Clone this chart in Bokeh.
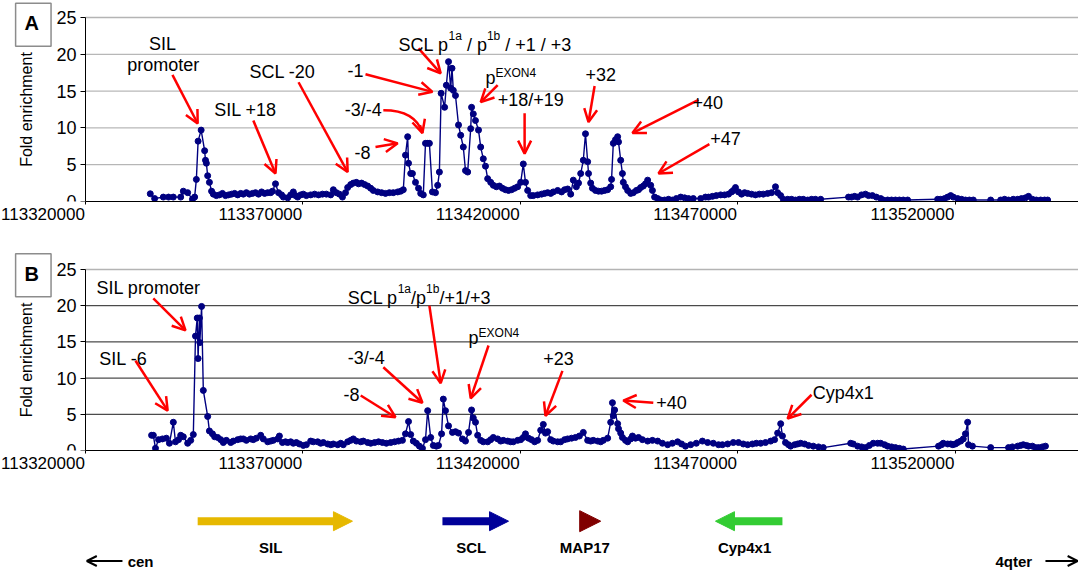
from bokeh.plotting import figure
from bokeh.models import Range1d, FixedTicker, Label, Arrow, OpenHead, NormalHead
from bokeh.layouts import column
from bokeh.embed import file_html
from bokeh.resources import INLINE

FONT = "Liberation Sans"
NAVY = "#000080"
RED = "#FF0000"

REGION_START = 113320000          # bp, left end of the x axis
REGION_END = 113548400            # bp, right end of the x axis

x_ticks = [113320000, 113370000, 113420000, 113470000, 113520000]
x_tick_labels = ["113320000", "113370000", "113420000", "113470000", "113520000"]
y_ticks = [0, 5, 10, 15, 20, 25]

# Panel A: probe position (kb from REGION_START) and fold enrichment
a_pos_kb = [
    14.9, 15.9, 17.9, 19.1, 20.2, 21.9, 22.5, 23.5, 24.6, 25.1,
    25.5, 25.9, 26.6, 27.4, 27.6, 27.8, 28.1, 28.5, 29.0, 29.4,
    30.1, 30.8, 31.5, 32.2, 32.9, 33.6, 34.3, 35.0, 35.7, 36.3,
    37.0, 37.7, 38.4, 39.1, 39.8, 40.5, 41.2, 41.9, 42.6, 43.0,
    43.7, 44.4, 45.1, 45.5, 46.5, 47.2, 47.8, 48.3, 48.8, 49.5,
    50.1, 50.8, 51.8, 52.7, 53.6, 54.5, 55.4, 56.4, 57.0, 57.7,
    58.4, 59.1, 59.8, 60.3, 61.0, 61.6, 62.3, 62.8, 63.5, 64.2,
    64.9, 65.6, 66.2, 67.2, 68.1, 69.0, 69.9, 70.8, 71.8, 72.5,
    73.1, 73.6, 74.1, 74.3, 74.8, 75.2, 75.9, 76.6, 77.1, 77.7,
    78.2, 78.7, 79.1, 79.8, 80.5, 81.0, 81.4, 81.8, 82.6, 83.0,
    83.5, 84.0, 84.3, 84.6, 85.1, 85.8, 86.3, 86.9, 87.4, 87.9,
    88.6, 88.8, 89.2, 89.7, 90.4, 90.9, 91.5, 92.0, 92.5, 93.2,
    93.8, 94.5, 95.2, 95.9, 96.6, 97.3, 98.0, 98.7, 99.4, 100.1,
    100.7, 101.2, 101.7, 102.4, 103.0, 104.0, 104.9, 105.6, 106.3, 107.0,
    107.6, 108.6, 109.5, 110.2, 110.9, 111.6, 112.2, 112.9, 113.4, 113.9,
    114.5, 115.0, 115.5, 115.7, 116.2, 116.6, 117.3, 118.0, 118.7, 119.4,
    120.1, 120.8, 121.0, 121.4, 121.9, 122.4, 122.6, 123.1, 123.5, 123.7,
    124.2, 124.7, 125.4, 126.0, 126.7, 127.2, 127.7, 128.3, 128.8, 129.3,
    130.0, 130.4, 130.9, 131.6, 132.3, 133.2, 134.1, 135.0, 135.9, 136.9,
    137.8, 138.7, 139.8, 141.5, 142.6, 143.3, 144.2, 145.1, 146.1, 147.0,
    147.9, 148.6, 149.0, 149.5, 150.2, 150.9, 151.6, 152.3, 153.2, 154.1,
    155.0, 155.9, 156.9, 157.8, 158.7, 159.2, 159.9, 160.5, 161.5, 162.4,
    163.3, 164.2, 165.1, 166.1, 167.0, 167.9, 169.1, 175.5, 176.2, 176.9,
    177.6, 178.5, 179.4, 180.1, 181.0, 181.9, 182.9, 183.5, 184.5, 185.4,
    186.3, 187.2, 188.1, 189.1, 196.0, 196.7, 197.6, 198.3, 199.0, 199.6,
    200.6, 201.5, 202.4, 203.3, 204.2, 208.2, 210.5, 211.4, 212.3, 213.4,
    214.4, 215.3, 216.2, 216.9, 217.8, 218.7, 219.7, 220.6, 221.3,
]
a_fold = [
    1.05, 0.4, 0.6, 0.6, 0.6, 0.6, 1.4, 1.2, 0.3, 0.6,
    3.0, 8.2, 9.7, 6.9, 5.6, 5.2, 3.5, 2.6, 1.4, 1.0,
    0.8, 0.9, 1.1, 0.8, 0.9, 1.0, 1.1, 0.9, 1.1, 1.0,
    1.2, 1.0, 1.1, 1.2, 1.0, 1.3, 1.1, 1.2, 1.2, 1.4,
    2.4, 1.2, 0.9, 0.6, 0.5, 0.9, 1.3, 0.8, 0.6, 0.9,
    1.0, 0.8, 0.9, 1.0, 0.9, 1.0, 1.0, 0.9, 1.6, 1.2,
    1.0, 0.6, 1.2, 1.9, 2.3, 2.5, 2.6, 2.4, 2.5, 2.3,
    2.1, 1.8, 1.5, 1.3, 1.2, 1.1, 1.2, 1.2, 1.3, 1.4,
    1.6, 6.3, 8.8, 5.2, 3.8, 3.8, 2.6, 1.8, 1.1, 0.9,
    7.9, 7.9, 7.9, 1.3, 1.2, 2.2, 4.0, 14.7, 12.8, 15.8,
    19.0, 15.4, 18.1, 15.1, 14.4, 10.4, 9.0, 7.4, 4.2, 4.0,
    9.9, 12.8, 11.9, 11.0, 9.7, 7.4, 5.8, 4.8, 3.1, 2.6,
    2.2, 2.0, 2.1, 1.8, 1.6, 1.5, 1.6, 1.8, 2.0, 2.6,
    5.1, 2.6, 1.5, 0.8, 0.8, 0.9, 1.0, 1.1, 1.2, 1.1,
    1.3, 1.5, 1.3, 1.6, 1.7, 1.0, 2.9, 2.0, 2.5, 3.8,
    5.6, 9.2, 5.4, 3.8, 2.5, 1.8, 1.5, 1.4, 1.4, 1.5,
    1.6, 2.0, 3.0, 7.9, 8.4, 8.8, 8.1, 5.6, 3.8, 2.6,
    2.0, 1.5, 1.1, 1.2, 1.5, 1.6, 1.9, 2.1, 2.4, 2.9,
    2.2, 1.5, 0.6, 0.4, 0.2, 0.2, 0.3, 0.2, 0.4, 0.6,
    0.5, 0.4, 0.4, 0.4, 0.6, 0.6, 0.7, 0.8, 0.9, 0.9,
    1.0, 1.3, 1.5, 1.9, 1.3, 1.0, 1.2, 1.1, 1.0, 0.9,
    1.0, 1.0, 1.1, 1.2, 2.0, 1.2, 0.8, 0.3, 0.3, 0.3,
    0.2, 0.3, 0.3, 0.2, 0.3, 0.3, 0.3, 0.6, 0.6, 0.7,
    0.6, 0.9, 1.0, 0.8, 0.8, 0.6, 0.4, 0.2, 0.2, 0.2,
    0.2, 0.2, 0.2, 0.2, 0.3, 0.3, 0.4, 0.6, 0.8, 0.6,
    0.4, 0.3, 0.2, 0.2, 0.2, 0.2, 0.2, 0.3, 0.2, 0.3,
    0.3, 0.4, 0.5, 0.7, 0.3, 0.2, 0.2, 0.2, 0.2,
]

# Panel B: probe position (kb from REGION_START) and fold enrichment
b_pos_kb = [
    15.2, 15.6, 16.1, 16.8, 17.7, 18.6, 19.3, 20.2, 20.7, 21.4,
    21.9, 22.5, 23.5, 24.2, 24.8, 25.3, 25.7, 25.9, 26.2, 26.3,
    26.7, 27.1, 28.1, 28.5, 29.2, 29.7, 30.4, 31.1, 31.7, 32.4,
    33.4, 34.0, 35.0, 35.7, 36.3, 37.0, 38.0, 38.6, 39.3, 40.3,
    40.9, 41.9, 42.6, 43.2, 44.2, 44.6, 45.3, 46.0, 46.5, 47.2,
    47.8, 48.5, 49.2, 50.1, 50.8, 51.8, 52.4, 53.4, 54.1, 54.7,
    55.7, 56.4, 57.0, 58.0, 58.7, 59.3, 60.3, 61.0, 61.6, 62.3,
    63.3, 63.9, 64.9, 65.6, 66.5, 67.4, 68.3, 69.2, 70.2, 71.1,
    72.0, 72.9, 73.6, 74.3, 74.8, 75.4, 76.1, 76.8, 77.5, 78.2,
    78.7, 79.4, 80.0, 80.7, 81.2, 81.9, 82.3, 82.8, 83.5, 84.4,
    85.1, 85.8, 86.7, 87.4, 88.1, 88.8, 89.2, 89.7, 90.2, 90.9,
    91.5, 92.5, 93.2, 93.8, 94.8, 95.5, 96.1, 97.1, 97.8, 98.4,
    99.4, 100.1, 100.7, 101.2, 101.9, 102.6, 103.3, 104.0, 104.7, 105.3,
    105.8, 106.3, 107.0, 107.6, 108.6, 109.3, 110.2, 110.9, 111.8, 112.7,
    113.6, 114.5, 115.5, 116.2, 116.8, 117.8, 118.5, 119.1, 120.1, 120.8,
    121.2, 121.4, 121.7, 122.4, 122.6, 123.1, 123.5, 124.2, 124.7, 125.4,
    125.8, 126.5, 127.2, 128.1, 129.3, 130.4, 131.6, 132.7, 133.9, 135.0,
    136.2, 137.1, 138.0, 139.2, 140.5, 141.9, 143.1, 144.4, 145.6, 146.5,
    147.7, 149.0, 150.2, 151.3, 152.3, 153.4, 154.3, 155.3, 156.4, 157.6,
    158.5, 159.2, 159.9, 160.3, 161.0, 161.7, 162.2, 163.1, 163.8, 164.5,
    165.4, 166.3, 167.4, 168.6, 169.7, 176.0, 176.6, 177.6, 178.5, 179.4,
    180.3, 181.2, 182.2, 182.9, 183.8, 184.5, 185.4, 186.3, 187.2, 188.1,
    196.2, 196.9, 197.3, 198.3, 199.0, 199.5, 200.1, 200.6, 201.3, 201.9,
    202.4, 202.9, 203.1, 204.0, 208.2, 212.3, 213.2, 214.4, 215.1, 215.7,
    216.4, 216.9, 217.8, 218.5, 219.2, 220.1, 220.8,
]
b_fold = [
    2.1, 2.1, 0.3, 1.5, 1.6, 1.7, 1.0, 3.9, 1.2, 1.5,
    2.1, 1.9, 1.0, 1.4, 2.2, 15.8, 18.3, 12.7, 18.3, 14.9,
    19.9, 8.3, 4.7, 2.7, 2.3, 1.9, 1.8, 1.5, 1.1, 1.4,
    1.1, 1.3, 1.5, 1.6, 1.6, 1.4, 1.6, 1.5, 1.7, 2.1,
    1.6, 1.2, 1.3, 1.4, 1.6, 2.0, 1.1, 1.2, 1.1, 1.2,
    1.0, 1.1, 0.9, 0.7, 0.8, 1.3, 1.2, 1.2, 1.0, 1.1,
    0.9, 0.8, 0.9, 0.8, 1.0, 0.8, 1.2, 1.4, 1.6, 1.3,
    1.2, 1.3, 1.1, 1.0, 1.1, 1.2, 1.1, 1.0, 1.1, 1.2,
    1.3, 1.4, 2.3, 4.0, 2.2, 1.3, 1.0, 0.6, 0.3, 1.5,
    5.5, 1.8, 0.7, 0.6, 0.7, 2.3, 7.1, 5.5, 3.4, 2.5,
    2.6, 2.4, 1.6, 1.3, 2.5, 5.6, 4.5, 3.9, 2.1, 1.4,
    1.2, 1.2, 1.5, 1.8, 1.6, 1.3, 1.4, 1.3, 1.2, 1.2,
    1.4, 1.5, 1.8, 2.3, 1.7, 1.5, 1.2, 1.4, 2.8, 3.6,
    2.4, 2.6, 1.5, 1.3, 1.2, 1.2, 1.5, 1.6, 1.7, 1.8,
    2.0, 2.5, 1.4, 1.3, 1.4, 1.3, 1.2, 1.4, 1.7, 3.9,
    6.6, 4.8, 5.6, 3.7, 3.0, 2.4, 1.8, 1.4, 1.2, 1.6,
    2.0, 1.7, 1.8, 1.5, 1.3, 1.4, 1.3, 1.0, 0.8, 1.0,
    1.2, 0.9, 0.6, 0.8, 1.0, 1.3, 1.1, 1.0, 0.8, 0.8,
    0.9, 1.1, 1.1, 0.9, 0.8, 0.9, 1.0, 1.0, 1.1, 1.3,
    1.5, 2.4, 3.7, 2.0, 1.1, 0.8, 0.6, 0.8, 0.9, 1.0,
    0.9, 0.7, 0.6, 0.5, 0.4, 1.0, 0.9, 0.6, 0.5, 0.4,
    0.7, 1.0, 1.0, 1.0, 0.8, 0.6, 0.5, 0.4, 0.3, 0.2,
    0.6, 0.8, 1.0, 0.9, 0.9, 0.8, 0.9, 1.1, 1.3, 1.6,
    2.3, 3.9, 0.8, 0.6, 0.4, 0.4, 0.5, 0.6, 0.7, 0.8,
    0.7, 0.6, 0.6, 0.4, 0.4, 0.5, 0.6,
]
assert len(a_pos_kb) == len(a_fold) and len(b_pos_kb) == len(b_fold)

# Genes (kb from REGION_START): tail -> tip of each arrow
gene_names = ["SIL", "SCL", "MAP17", "Cyp4x1"]
gene_from_kb = [25.8, 82.1, 113.2, 160.3]
gene_to_kb = [61.4, 97.3, 118.5, 144.9]
gene_colors = ["#E6B800", "#000099", "#800000", "#33CC33"]

# Annotations: (text, x kb, y fold); straight arrows (x0, y0, x1, y1);
# curved arrows (x0, y0, cx, cy, x1, y1)
a_notes = [("SIL", 17.7, 21.4), ("promoter", 17.9, 18.5), ("SIL +18", 36.8, 12.5),
           ("SCL -20", 45.3, 17.6), ("-1", 62.1, 17.8), ("-3/-4", 63.9, 12.4),
           ("-8", 63.7, 6.7), ("+18/+19", 102.4, 13.8), ("+32", 118.5, 17.2),
           ("+40", 143.1, 13.4), ("+47", 147.2, 8.6)]
a_arrows = [(20.0, 17.2, 25.8, 10.6), (38.6, 11.0, 43.7, 3.8), (49.0, 16.2, 60.3, 4.0),
            (64.4, 17.3, 79.8, 14.9), (76.6, 20.8, 81.7, 17.4),
            (66.7, 7.4, 71.8, 7.9), (94.8, 15.8, 90.9, 13.5), (101.0, 12.0, 101.0, 6.5),
            (117.1, 15.7, 115.7, 10.8), (141.0, 13.8, 125.8, 9.3), (143.5, 7.8, 131.8, 3.8)]
a_curved = [(68.5, 12.4, 75.9, 12.4, 77.5, 9.3)]
b_notes = [("SIL promoter", 14.5, 22.4), ("SIL -6", 8.7, 12.6), ("-3/-4", 64.6, 12.8),
           ("-8", 61.2, 7.7), ("+23", 108.8, 12.7), ("+40", 134.8, 6.6), ("Cyp4x1", 174.3, 8.0)]
b_arrows = [(15.6, 21.0, 23.0, 16.6), (11.5, 12.4, 18.9, 5.5), (79.1, 20.0, 81.7, 9.3),
            (68.5, 11.5, 77.5, 6.6), (63.3, 7.6, 71.3, 4.6), (92.7, 14.5, 88.6, 7.2),
            (109.7, 11.0, 105.8, 4.8), (130.6, 6.6, 123.7, 6.9), (167.0, 7.7, 161.5, 4.4)]
b_curved = []

ARIAL = {' ': 278, '/': 278, '+': 584, '1': 556, '3': 556, '4': 556, 'a': 556, 'b': 556,
         'p': 556, 'S': 667, 'C': 722, 'L': 556, 'E': 667, 'X': 667, 'O': 778, 'N': 722}
NBSP = "\u00a0"

WIDTH = 1078
MARGIN_L = 85                                  # px left of the axis start
BP_PER_PX = (REGION_END - REGION_START) / (WIDTH - MARGIN_L)
X_VIEW_START = REGION_START - MARGIN_L * BP_PER_PX


def bp(kb):
    return REGION_START + kb * 1000.0


def tw(s, size):
    return sum(ARIAL[c] for c in s) * size / 1000.0


def rich(p, x_kb, y, parts):
    off = 0.0
    for txt, size, rise in parts:
        lead = len(txt) - len(txt.lstrip(" "))
        off += lead * 0.278 * size
        t = txt.strip(" ")
        p.add_layout(Label(x=bp(x_kb), y=y, x_offset=off, y_offset=rise, text=t,
                           text_font=FONT, text_font_size=f"{size}px", text_color="black",
                           text_align="left", text_baseline="alphabetic"))
        off += tw(t, size)


def panel(pos_kb, fold, height, top, frame_h, grid_color, letter, letter_y, notes, arrows, curved):
    y_max = y_ticks[-1]
    y_view_top = y_max + top * y_max / frame_h
    p = figure(width=WIDTH, height=height, output_backend="svg", toolbar_location=None,
               x_range=Range1d(X_VIEW_START, REGION_END), y_range=Range1d(0, y_view_top),
               min_border_left=0, min_border_right=0, min_border_top=0,
               min_border_bottom=height - top - frame_h)
    p.outline_line_color = None
    p.background_fill_color = "white"
    p.border_fill_color = "white"
    p.xgrid.visible = False
    p.ygrid.visible = False

    # horizontal grid lines from the y ticks, only across the plotting area
    gy = y_ticks[1:-1]
    p.segment(x0=[REGION_START] * len(gy), x1=[REGION_END] * len(gy), y0=gy, y1=gy,
              line_color=grid_color, line_width=1)
    p.segment(x0=[REGION_START], x1=[REGION_END], y0=[y_max], y1=[y_max],
              line_color="#b4b4b4", line_width=1.5)

    ax = p.yaxis[0]
    ax.fixed_location = REGION_START
    ax.bounds = (0, y_max)
    ax.ticker = FixedTicker(ticks=y_ticks)
    ax.axis_label = "Fold enrichment"
    ax.axis_label_text_font = FONT
    ax.axis_label_text_font_size = "16px"
    ax.axis_label_text_font_style = "normal"
    ax.axis_label_text_color = "black"
    ax.axis_label_standoff = 18
    ax.major_label_text_font = FONT
    ax.major_label_text_font_size = "18px"
    ax.major_label_text_color = "black"
    ax.major_label_standoff = 4
    ax.major_tick_out = 5
    ax.major_tick_in = 0
    ax.minor_tick_out = 0
    ax.minor_tick_in = 0
    ax.axis_line_color = "black"
    ax.major_tick_line_color = "black"

    # x tick labels sit to the left of their tick (right-aligned): pad with no-break spaces
    xa = p.xaxis[0]
    xa.bounds = (REGION_START, REGION_END)
    xa.ticker = FixedTicker(ticks=x_ticks)
    xa.major_label_overrides = {t: lbl + NBSP * (2 * len(lbl)) for t, lbl in zip(x_ticks, x_tick_labels)}
    xa.major_label_text_font = FONT
    xa.major_label_text_font_size = "17px"
    xa.major_label_text_color = "black"
    xa.major_label_standoff = 0
    xa.major_tick_out = 3
    xa.major_tick_in = 0
    xa.minor_tick_out = 0
    xa.minor_tick_in = 0
    xa.axis_line_color = "black"
    xa.major_tick_line_color = "black"

    xs = [bp(k) for k in pos_kb]
    p.line(xs, fold, line_color=NAVY, line_width=1.4)
    p.scatter(xs, fold, size=6, fill_color=NAVY, line_color=NAVY, line_width=1)

    for (x0, y0, x1, y1) in arrows:
        p.add_layout(Arrow(x_start=bp(x0), y_start=y0, x_end=bp(x1), y_end=y1,
                           line_color=RED, line_width=2.5,
                           end=OpenHead(size=13, line_color=RED, line_width=2.5)))
    for (x0, y0, cx, cy, x1, y1) in curved:
        p.quadratic(x0=[bp(x0)], y0=[y0], x1=[bp(x1)], y1=[y1], cx=[bp(cx)], cy=[cy],
                    line_color=RED, line_width=2.5)
        # arrow head along the final tangent of the curve
        hx = x1 - (x1 - cx) * 0.35
        hy = y1 - (y1 - cy) * 0.35
        p.add_layout(Arrow(x_start=bp(hx), y_start=hy, x_end=bp(x1), y_end=y1,
                           line_color=RED, line_width=2.5,
                           end=OpenHead(size=13, line_color=RED, line_width=2.5)))
    for (t, x, y) in notes:
        p.add_layout(Label(x=bp(x), y=y, text=t, text_font=FONT, text_font_size="18px",
                           text_color="black", text_align="center", text_baseline="middle"))

    p.add_layout(Label(x=bp(-12.0), y=letter_y, text=letter, text_font=FONT,
                       text_font_size="20px", text_font_style="bold", text_color="black",
                       text_align="center", text_baseline="middle",
                       background_fill_color="white", border_line_color="#8c8c8c",
                       border_line_width=1.5, padding=(9, 12, 9, 12)))
    return p


pA = panel(a_pos_kb, a_fold, 250, 17, 184, "#a6a6a6", "A", 24.0, a_notes, a_arrows, a_curved)
rich(pA, 72.0, 21.25, [("SCL p", 18, 0), ("1a", 12, 9), (" / p", 18, 0), ("1b", 12, 9),
                       (" / +1 / +3", 18, 0)])
rich(pA, 92.0, 16.8, [("p", 18, 0), ("EXON4", 12, 5)])

pB = panel(b_pos_kb, b_fold, 249, 19, 181, "#202020", "B", 24.2, b_notes, b_arrows, b_curved)
rich(pB, 60.3, 21.1, [("SCL p", 18, 0), ("1a", 12, 9), ("/p", 18, 0), ("1b", 12, 9),
                      ("/+1/+3", 18, 0)])
rich(pB, 88.1, 15.5, [("p", 18, 0), ("EXON4", 12, 5)])

# Gene map
pC = figure(width=WIDTH, height=72, output_backend="svg", toolbar_location=None,
            x_range=Range1d(X_VIEW_START, REGION_END), y_range=Range1d(72, 0),
            x_axis_type=None, y_axis_type=None,
            min_border_left=0, min_border_right=0, min_border_top=0, min_border_bottom=0)
pC.outline_line_color = None
pC.grid.grid_line_color = None
GENE_Y = 21.7
for name, g0, g1, col in zip(gene_names, gene_from_kb, gene_to_kb, gene_colors):
    shaft = 8 if name != "MAP17" else 0
    head = 19 if name != "MAP17" else 21
    pC.add_layout(Arrow(x_start=bp(g0), y_start=GENE_Y, x_end=bp(g1), y_end=GENE_Y,
                        line_color=col, line_width=shaft, line_alpha=1 if shaft else 0,
                        end=NormalHead(size=head, fill_color=col, line_color=col, line_width=1)))
    pC.add_layout(Label(x=bp((g0 + g1) / 2 - 1.0), y=47.5, text=name, text_font=FONT,
                        text_font_size="15px", text_font_style="bold", text_color="black",
                        text_align="center", text_baseline="middle"))
pC.add_layout(Arrow(x_start=bp(8.5), y_start=61.5, x_end=bp(0.3), y_end=61.5,
                    line_color="black", line_width=2,
                    end=OpenHead(size=10, line_color="black", line_width=2)))
pC.add_layout(Label(x=bp(9.7), y=61.5, text="cen", text_font=FONT, text_font_size="15px",
                    text_font_style="bold", text_color="black",
                    text_align="left", text_baseline="middle"))
pC.add_layout(Label(x=bp(209.3), y=61.5, text="4qter", text_font=FONT, text_font_size="15px",
                    text_font_style="bold", text_color="black",
                    text_align="left", text_baseline="middle"))
pC.add_layout(Arrow(x_start=bp(220.8), y_start=61.5, x_end=bp(228.2), y_end=61.5,
                    line_color="black", line_width=2,
                    end=OpenHead(size=10, line_color="black", line_width=2)))

layout = column(pA, pB, pC, spacing=0)
open("out.html", "w").write(file_html(layout, INLINE))
